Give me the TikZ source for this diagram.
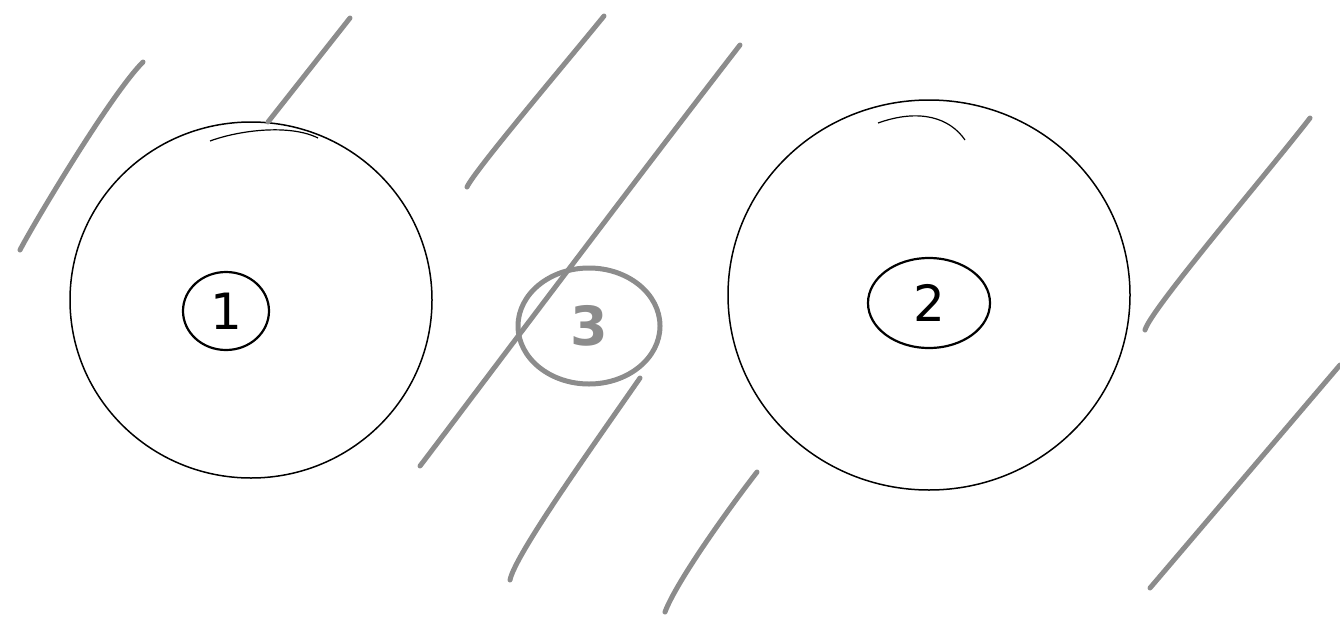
\documentclass[tikz,border=0pt]{standalone}
\usepackage{fontspec}
\setsansfont{DejaVu Sans}
\usetikzlibrary{shapes.geometric}
\definecolor{strokegray}{HTML}{8C8C8C}

\begin{document}
\begin{tikzpicture}[x=1pt, y=-1pt,
    bigcircle/.style={ellipse, draw, line width=1.5pt, inner sep=0pt},
    numbox/.style={ellipse, draw, line width=2.2pt, inner sep=0pt,
                   font=\sffamily\fontsize{50}{50}\selectfont},
    hatch/.style={draw=strokegray, line width=5pt, line cap=round}
]
\useasboundingbox (0,0) rectangle (1340,624);

% the two large regions
\node[bigcircle, minimum width=362, minimum height=356] (ring1) at (251,300) {};
\node[bigcircle, minimum width=402, minimum height=390] (ring2) at (929,295) {};
\draw[line width=1.2pt] (210,141) .. controls (240,130) and (290,124) .. (318,138);
\draw[line width=1.2pt] (878,123) .. controls (920,108) and (950,118) .. (965,140);

% numbered labels
\node[numbox, minimum width=86, minimum height=78] (num1) at (226,311) {1};
\node[numbox, minimum width=122, minimum height=90] (num2) at (929,303) {2};
\node[numbox, draw=strokegray, text=strokegray, line width=5pt,
      font=\sffamily\bfseries\fontsize{54}{54}\selectfont,
      minimum width=142, minimum height=116] (num3) at (589,326) {3};

% hatching
\draw[hatch] (20,250) .. controls (30,230) and (110,95) .. (143,62);
\draw[hatch] (268,122) -- (350,18);
\draw[hatch] (467,187) .. controls (475,170) and (560,70) .. (604,16);
\draw[hatch] (420,466) .. controls (440,440) and (620,200) .. (740,45);
\draw[hatch] (510,580) .. controls (515,555) and (590,450) .. (640,378);
\draw[hatch] (665,612) .. controls (675,585) and (720,520) .. (757,472);
\draw[hatch] (1145,330) .. controls (1150,310) and (1270,170) .. (1310,118);
\draw[hatch] (1150,588) -- (1340,365);
\end{tikzpicture}
\end{document}
